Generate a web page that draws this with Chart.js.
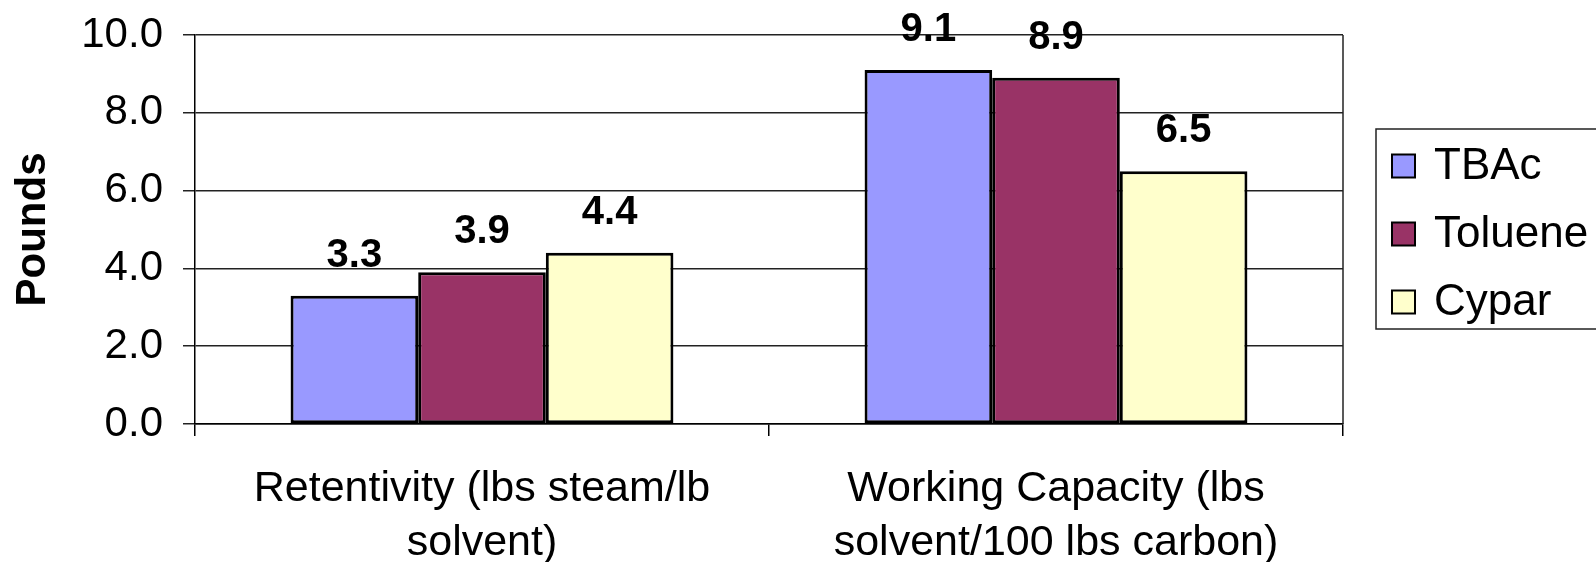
<!DOCTYPE html>
<html>
<head>
<meta charset="utf-8">
<script src="https://cdn.jsdelivr.net/npm/chart.js@4/dist/chart.umd.min.js"></script>
<style>
  html, body { margin: 0; padding: 0; background: #fff; }
  canvas { display: block; }
</style>
</head>
<body>
<canvas id="chart" width="1596" height="562"></canvas>
<script>
// chart data
const categories = [
    ['Retentivity (lbs steam/lb', 'solvent)'],
    ['Working Capacity (lbs', 'solvent/100 lbs carbon)']
];
const seriesNames = ['TBAc', 'Toluene', 'Cypar'];
const tbac = [3.3, 9.1];
const toluene = [3.9, 8.9];
const cypar = [4.4, 6.5];
const yTicks = [0, 2, 4, 6, 8, 10];

const colors = ['#9999FF', '#993366', '#FFFFCC'];
const FONT = "'Liberation Sans', Arial, sans-serif";

// value labels above each bar
const barLabels = {
    id: 'barLabels',
    afterDatasetsDraw(chart) {
        const ctx = chart.ctx;
        ctx.save();
        ctx.font = 'bold 40px ' + FONT;
        ctx.fillStyle = '#000';
        ctx.textAlign = 'center';
        ctx.textBaseline = 'alphabetic';
        chart.data.datasets.forEach((ds, i) => {
            chart.getDatasetMeta(i).data.forEach((bar, j) => {
                ctx.fillText(ds.data[j].toFixed(1), bar.x, bar.y - 29);
            });
        });
        ctx.restore();
    }
};

// right edge of plot frame
const plotFrame = {
    id: 'plotFrame',
    beforeDatasetsDraw(chart) {
        const { ctx, chartArea } = chart;
        ctx.save();
        ctx.strokeStyle = '#222';
        ctx.lineWidth = 1.5;
        ctx.beginPath();
        ctx.moveTo(chartArea.right, chartArea.top);
        ctx.lineTo(chartArea.right, chartArea.bottom);
        ctx.stroke();
        ctx.restore();
    }
};

// boxed legend on the right
const boxLegend = {
    id: 'boxLegend',
    afterDraw(chart) {
        const ctx = chart.ctx;
        const left = 1376, top = 129, bottom = 329;
        ctx.save();
        ctx.strokeStyle = '#222';
        ctx.lineWidth = 1.5;
        ctx.strokeRect(left, top, 400, bottom - top);
        ctx.font = '44px ' + FONT;
        ctx.textBaseline = 'middle';
        ctx.textAlign = 'left';
        chart.data.datasets.forEach((ds, i) => {
            const cy = 166 + i * 68;
            ctx.fillStyle = ds.backgroundColor;
            ctx.fillRect(1392, cy - 11.5, 23, 23);
            ctx.strokeStyle = '#000';
            ctx.lineWidth = 2;
            ctx.strokeRect(1392, cy - 11.5, 23, 23);
            ctx.fillStyle = '#000';
            ctx.fillText(ds.label, 1434, cy + 1);
        });
        ctx.restore();
    }
};

new Chart(document.getElementById('chart'), {
    type: 'bar',
    data: {
        labels: categories,
        datasets: [
            { label: seriesNames[0], data: tbac, backgroundColor: colors[0] },
            { label: seriesNames[1], data: toluene, backgroundColor: colors[1] },
            { label: seriesNames[2], data: cypar, backgroundColor: colors[2] }
        ].map(d => Object.assign(d, { borderColor: '#000', borderWidth: 3, borderSkipped: false }))
    },
    options: {
        responsive: false,
        animation: false,
        categoryPercentage: 0.667,
        barPercentage: 1.0,
        layout: { padding: { top: 35, right: 253, left: 0, bottom: 0 } },
        plugins: {
            legend: { display: false },
            tooltip: { enabled: false }
        },
        scales: {
            x: {
                grid: {
                    offset: true,
                    drawOnChartArea: false,
                    drawTicks: true,
                    tickLength: 12,
                    color: '#000',
                    lineWidth: 1.5
                },
                border: { color: '#000', width: 1.5 },
                ticks: {
                    color: '#000',
                    padding: 26,
                    maxRotation: 0,
                    autoSkip: false,
                    font: { family: FONT, size: 43, lineHeight: 1.26 }
                },
                afterFit(scale) { scale.height = 138; }
            },
            y: {
                min: 0,
                max: 10,
                afterBuildTicks(scale) { scale.ticks = yTicks.map(v => ({ value: v })); },
                grid: {
                    color: '#222',
                    lineWidth: 1.5,
                    tickLength: 12
                },
                border: { color: '#000', width: 1.5 },
                ticks: {
                    color: '#000',
                    padding: 20,
                    font: { family: FONT, size: 42 },
                    callback: v => Number(v).toFixed(1)
                },
                title: {
                    display: true,
                    text: 'Pounds',
                    color: '#000',
                    padding: { top: 8, bottom: 0 },
                    font: { family: FONT, size: 42, weight: 'bold', lineHeight: 1.2 }
                },
                afterFit(scale) {
                    scale.width = 195;
                    scale.paddingTop = 0;
                    scale.paddingBottom = 0;
                }
            }
        }
    },
    plugins: [barLabels, plotFrame, boxLegend]
});
</script>
</body>
</html>
